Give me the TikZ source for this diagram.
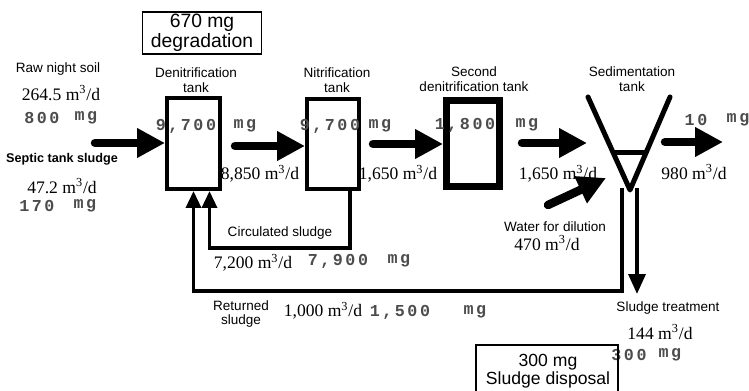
\documentclass[tikz,border=0pt]{standalone}
\usepackage{fontspec}
\setmainfont{Liberation Serif}
\setsansfont{Liberation Sans}
\newfontfamily\monofont[LetterSpace=15]{Liberation Mono}
\usetikzlibrary{arrows.meta,positioning,calc}

\begin{document}
\begin{tikzpicture}[x=0.02cm,y=-0.02cm,
  lbl/.style={font=\sffamily\fontsize{7.7}{8.5}\selectfont,align=center,inner sep=0},
  num/.style={font=\fontsize{10}{12}\selectfont,inner sep=0},
  conc/.style={font=\monofont\bfseries\fontsize{9.5}{10}\selectfont,text=black!70,inner sep=0},
  boxtext/.style={font=\sffamily\fontsize{10.5}{9.8}\selectfont,align=center,inner sep=0},
  tank/.style={draw,line width=0.08cm,inner sep=0},
  fatarrow/.style={line width=0.17cm,line cap=round,-{Triangle[length=0.56cm,width=0.56cm]}},
  thinarrow/.style={line width=0.07cm,-{Triangle[length=0.34cm,width=0.3cm]}}]
\useasboundingbox (0,0) rectangle (749,391);
%% tanks
\node[tank,minimum width=1.06cm,minimum height=1.82cm] (denit) at (193.5,143.5) {};
\node[tank,minimum width=1.04cm,minimum height=1.80cm] (nitr) at (333,144) {};
\node[tank,line width=0.14cm,minimum width=1.06cm,minimum height=1.72cm] (second) at (473,143.5) {};
\node[lbl] (denitname) at (196,80) {Denitrification\\tank};
\node[lbl] (nitrname) at (337,80) {Nitrification\\tank};
\node[lbl] (secondname) at (474,79) {Second\\denitrification tank};
\node[lbl] (sedname) at (632,79) {Sedimentation\\tank};
%% sedimentation tank
\coordinate (sedTL) at (588,97);
\coordinate (sedV) at (630,190);
\coordinate (sedTR) at (670,97);
\draw[line width=0.1cm,line cap=round,line join=round] (sedTL) -- (sedV) -- (sedTR);
\draw[line width=0.1cm] ($(sedTL)!0.6!(sedV)$) -- ($(sedTR)!0.6!(sedV)$);
%% degradation box
\node[draw,line width=0.6pt,boxtext,font=\sffamily\fontsize{11}{9.8}\selectfont,
  minimum width=2.38cm,minimum height=0.84cm] (degr) at (202,33) {670 mg\\degradation};
%% inflow
\node[lbl] (rawname) at (58,69) {Raw night soil};
\node[num] (rawflow) at (61,93) {264.5 m\textsuperscript{3}/d};
\node[conc] (rawconc) at (42,118) {800};
\node[conc] (rawmg) at (86,118) {mg};
\node[lbl,font=\sffamily\bfseries\fontsize{7.2}{8.5}\selectfont] (septicname) at (62,159) {Septic tank sludge};
\node[num] (septicflow) at (62,186) {47.2 m\textsuperscript{3}/d};
\node[conc] (septicconc) at (37,206) {170};
\node[conc] (septicmg) at (85,206) {mg};
%% concentrations in the tanks
\node[conc] (denitconc) at (186,126) {9,700};
\node[conc] (denitmg) at (245,126) {mg};
\node[conc] (nitrconc) at (330,126) {9,700};
\node[conc] (nitrmg) at (380,126) {mg};
\node[conc] (secondconc) at (465,125) {1,800};
\node[conc] (secondmg) at (527,125) {mg};
\node[conc] (outconc) at (696,120) {10};
\node[conc] (outmg) at (738,120) {mg};
%% flows
\node[num] (denitflow) at (260,174) {8,850 m\textsuperscript{3}/d};
\node[num] (nitrflow) at (398,174) {1,650 m\textsuperscript{3}/d};
\node[num] (secondflow) at (558,174) {1,650 m\textsuperscript{3}/d};
\node[num] (outflow) at (694,172) {980 m\textsuperscript{3}/d};
\node[lbl] (watername) at (555,227) {Water for dilution};
\node[num] (waterflow) at (547,243) {470 m\textsuperscript{3}/d};
%% main stream
\coordinate (rawstart) at (95,143);
\draw[fatarrow] (rawstart) -- (rawstart -| denit.west);
\coordinate (denitout) at (235,146);
\draw[fatarrow] (denitout) -- (denitout -| nitr.west);
\coordinate (nitrout) at (373,144);
\draw[fatarrow] (nitrout) -- (nitrout -| second.west);
\coordinate (secondout) at (522,143);
\coordinate (sedin) at (587,143);
\draw[fatarrow] (secondout) -- (sedin);
\coordinate (sedout) at (665,142);
\coordinate (outend) at (723,142);
\draw[fatarrow] (sedout) -- (outend);
\coordinate (waterstart) at (548,205);
\coordinate (waterend) at (606,178);
\draw[fatarrow] (waterstart) -- (waterend);
%% sludge lines
\draw[thinarrow] ($(nitr.south)+(17,0)$) -- ++(0,57) -| ($(denit.south)+(16,0)$);
\node[lbl] (circname) at (280,233) {Circulated sludge};
\node[num] (circflow) at (253,263) {7,200 m\textsuperscript{3}/d};
\node[conc] (circconc) at (338,261) {7,900};
\node[conc] (circmg) at (399,261) {mg};
\coordinate (sedfoot) at (622,188);
\coordinate (retlow) at (622,291);
\draw[thinarrow] (sedfoot) -- (retlow) -| (denit.south);
\node[lbl] (retname) at (241,314) {Returned\\sludge};
\node[num] (retflow) at (323,311) {1,000 m\textsuperscript{3}/d};
\node[conc] (retconc) at (400,312) {1,500};
\node[conc] (retmg) at (475,312) {mg};
\coordinate (sludgeout) at (637,188);
\draw[line width=0.07cm,-{Triangle[length=0.4cm,width=0.34cm]}] (sludgeout) -- ++(0,106);
\node[lbl] (treatname) at (668,308) {Sludge treatment};
\node[num] (treatflow) at (660,332) {144 m\textsuperscript{3}/d};
\node[conc] (treatconc) at (629,355) {300};
\node[conc] (treatmg) at (670,355) {mg};
%% disposal box
\draw[line width=0.6pt] (476,391) |- (618,345) -- (618,391);
\node[boxtext,font=\sffamily\fontsize{10}{10.2}\selectfont] (disptext) at (548,371) {300 mg\\Sludge disposal};
\end{tikzpicture}
\end{document}
